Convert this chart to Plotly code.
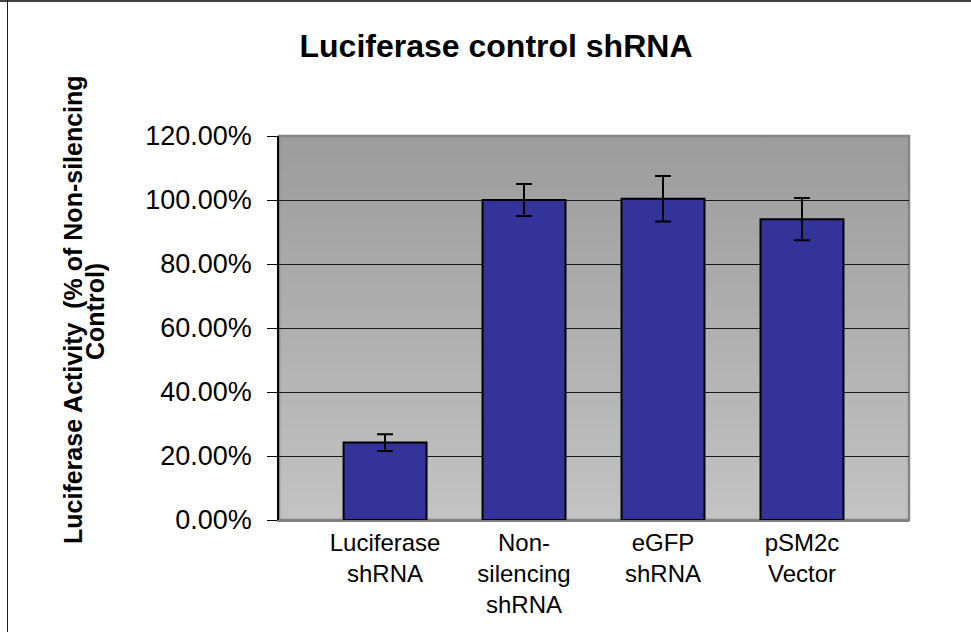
import base64
import plotly.graph_objects as go

# ---- data ----
categories = ["Luciferase<br>shRNA", "Non-<br>silencing<br>shRNA", "eGFP<br>shRNA", "pSM2c<br>Vector"]
activity = [0.242, 1.000, 1.004, 0.940]
error = [0.026, 0.050, 0.071, 0.066]
y_ticks = [0, 0.2, 0.4, 0.6, 0.8, 1.0, 1.2]

title_text = "Luciferase control shRNA"
ytitle_line1 = "Luciferase Activity  (% of Non-silencing"
ytitle_line2 = "Control)"

FONT = "Liberation Sans, Arial, sans-serif"

# gradient background image for the plot area
svg = ('<svg xmlns="http://www.w3.org/2000/svg" width="10" height="100" preserveAspectRatio="none">'
       '<defs><linearGradient id="g" x1="0" y1="0" x2="0" y2="1">'
       '<stop offset="0" stop-color="#9c9c9c"/><stop offset="1" stop-color="#c3c3c3"/>'
       '</linearGradient></defs><rect width="10" height="100" fill="url(#g)"/></svg>')
svg_uri = "data:image/svg+xml;base64," + base64.b64encode(svg.encode()).decode()

fig = go.Figure()
fig.add_trace(go.Bar(
    x=list(range(len(categories))),
    y=activity,
    width=0.597,
    marker=dict(color="#333399", line=dict(color="#000000", width=2)),
    error_y=dict(type="data", array=error, visible=True, color="#000000", thickness=2, width=8),
    hoverinfo="skip",
))

L, R, T, B = 279, 62, 136, 112
W, H = 971, 632
pw, ph = W - L - R, H - T - B

def px_x(px):
    return (px - L) / pw

def px_y(py):
    return (H - B - py) / ph

fig.update_layout(
    width=W, height=H,
    margin=dict(l=L, r=R, t=T, b=B, autoexpand=False),
    paper_bgcolor="white",
    plot_bgcolor="rgba(0,0,0,0)",
    showlegend=False,
    font=dict(family=FONT, color="black"),
    title=dict(text="<b>" + title_text + "</b>", x=496 / W, xanchor="center",
               y=1 - 46 / H, yanchor="middle", yref="container",
               font=dict(family=FONT, size=32, color="black")),
    xaxis=dict(
        tickmode="array", tickvals=list(range(len(categories))), ticktext=categories,
        range=[-0.763, 3.77], showgrid=False, zeroline=False,
        showline=True, linecolor="#808080", linewidth=2,
        ticks="", tickfont=dict(size=24, family=FONT, color="black"),
        fixedrange=True,
    ),
    yaxis=dict(
        range=[0, 1.2], tickvals=y_ticks, tickformat=".2%",
        showgrid=True, gridcolor="#1a1a1a", gridwidth=1, zeroline=False,
        showline=True, linecolor="#000000", linewidth=1.5,
        ticks="outside", ticklen=10, tickcolor="#000000", tickwidth=1,
        tickfont=dict(size=27, family=FONT, color="black"),
        ticklabelstandoff=10,
        fixedrange=True,
    ),
    images=[dict(source=svg_uri, xref="paper", yref="paper", x=0, y=1,
                 sizex=1, sizey=1, sizing="stretch", layer="below",
                 xanchor="left", yanchor="top")],
    shapes=[
        # plot-area frame (grey)
        dict(type="rect", xref="paper", yref="paper", x0=0, x1=1, y0=0, y1=1,
             line=dict(color="#858585", width=2.5), fillcolor="rgba(0,0,0,0)", layer="below"),
        # chart border
        dict(type="line", xref="paper", yref="paper", x0=px_x(0), x1=px_x(W + 5),
             y0=px_y(1), y1=px_y(1), line=dict(color="#404040", width=2)),
        dict(type="line", xref="paper", yref="paper", x0=px_x(7.5), x1=px_x(7.5),
             y0=px_y(0), y1=px_y(H + 5), line=dict(color="#202020", width=1)),
    ],
    annotations=[
        dict(text="<b>" + ytitle_line1 + "</b>", textangle=-90, xref="paper", yref="paper",
             x=px_x(73), y=px_y(310), xanchor="center", yanchor="middle", showarrow=False,
             font=dict(size=25, family=FONT, color="black")),
        dict(text="<b>" + ytitle_line2 + "</b>", textangle=-90, xref="paper", yref="paper",
             x=px_x(95), y=px_y(312), xanchor="center", yanchor="middle", showarrow=False,
             font=dict(size=25, family=FONT, color="black")),
    ],
)

fig.write_html("out.html", config={"displayModeBar": False},
               post_script="document.body.style.margin='0';document.body.style.overflow='hidden';")
